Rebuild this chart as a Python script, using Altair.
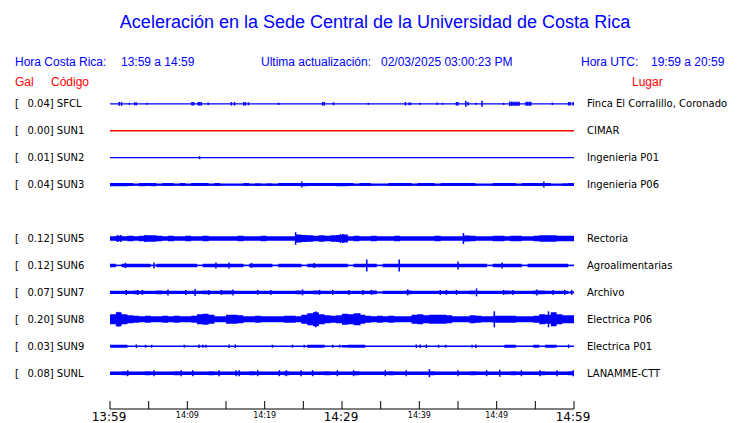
import altair as alt
import pandas as pd

# ---------------- data ----------------
CODES = ["SFCL", "SUN1", "SUN2", "SUN3", "SUN5", "SUN6", "SUN7", "SUN8", "SUN9", "SUNL"]
ROWS = [0, 1, 2, 3, 5, 6, 7, 8, 9, 10]
GAL = [0.04, 0.00, 0.01, 0.04, 0.12, 0.12, 0.07, 0.20, 0.03, 0.08]
PLACES = ["Finca El Corralillo, Coronado", "CIMAR", "Ingenieria P01", "Ingenieria P06",
          "Rectoria", "Agroalimentarias", "Archivo", "Electrica P06", "Electrica P01",
          "LANAMME-CTT"]

TICK_MIN = [0, 5, 10, 15, 20, 25, 30, 35, 40, 45, 50, 55, 60]
MAJOR_MIN = [0, 30, 60]
MAJOR_LBL = ["13:59", "14:29", "14:59"]
MINOR_MIN = [10, 20, 40, 50]
MINOR_LBL = ["14:09", "14:19", "14:39", "14:49"]

# envelope half-heights (px) in 0.75-minute bins (80 bins over the hour)
BIN_MIN = 0.75
SUN3_CORE = [1.6, 1.6, 1.6, 1.5, 1.1, 1.6, 1.5, 1.6, 1.2, 1.5,
             1.5, 1.2, 1.5, 1.2, 1.5, 1.5, 1.5, 1.2, 1.5, 1.1,
             1.1, 1.1, 1.1, 1.5, 1.2, 1.4, 1.2, 1.4, 1.2, 1.5,
             1.5, 1.5, 1.5, 1.6, 1.5, 1.5, 1.5, 1.5, 1.5, 1.6,
             1.6, 1.5, 1.1, 1.5, 1.5, 1.1, 1.2, 1.1, 1.5, 1.5,
             1.5, 1.5, 1.2, 1.5, 1.5, 1.5, 1.2, 1.5, 1.5, 1.5,
             1.5, 1.5, 1.5, 1.2, 1.1, 1.2, 1.5, 1.5, 1.5, 1.5,
             1.2, 1.5, 1.5, 1.5, 1.5, 1.5, 1.2, 1.2, 1.4, 1.5]
SUN5_CORE = [2.2, 2.8, 2.2, 2.8, 2.2, 2.8, 3.2, 3.2, 2.8, 2.2,
             2.8, 2.2, 2.2, 2.8, 2.2, 2.2, 2.8, 2.2, 2.2, 2.2,
             2.2, 2.2, 2.8, 2.2, 2.2, 2.2, 2.8, 2.2, 2.2, 2.2,
             2.2, 2.2, 4.0, 3.5, 3.2, 2.8, 3.2, 2.8, 3.2, 3.6,
             4.0, 2.2, 2.8, 2.2, 2.2, 2.8, 2.2, 2.2, 2.2, 2.8,
             2.2, 2.2, 2.2, 2.2, 2.2, 2.2, 2.8, 2.2, 2.2, 2.2,
             2.2, 3.0, 2.8, 2.2, 2.2, 2.2, 2.8, 2.8, 2.2, 2.8,
             2.8, 2.2, 2.2, 2.8, 3.2, 3.2, 3.2, 2.8, 2.8, 2.8]
SUN6_CORE = [1.7, 0.8, 1.7, 1.7, 1.7, 1.7, 1.7, 0.8, 1.7, 1.7,
             1.7, 1.7, 1.7, 1.7, 1.7, 0.8, 1.7, 1.7, 1.7, 1.7,
             1.7, 1.7, 1.7, 0.8, 1.7, 1.7, 1.7, 1.7, 0.8, 1.7,
             1.7, 1.7, 1.7, 0.8, 1.7, 1.7, 1.7, 1.7, 1.7, 1.7,
             1.7, 0.8, 1.7, 1.7, 1.7, 1.7, 0.8, 1.7, 1.7, 1.7,
             1.7, 1.7, 1.7, 1.7, 1.7, 1.7, 1.7, 1.7, 1.7, 1.7,
             1.7, 1.7, 1.7, 1.7, 1.7, 0.8, 1.7, 1.7, 1.7, 1.7,
             1.7, 0.8, 1.7, 1.7, 1.7, 1.7, 1.7, 1.7, 1.7, 0.8]
SUN7_CORE = [1.6, 1.6, 1.6, 1.6, 1.9, 1.6, 1.6, 1.6, 1.9, 1.6,
             1.6, 1.6, 1.6, 1.6, 1.6, 1.6, 1.9, 1.6, 1.6, 1.9,
             1.9, 1.6, 1.6, 1.6, 1.6, 1.6, 1.6, 1.6, 1.6, 1.6,
             1.6, 1.6, 1.9, 1.6, 1.6, 1.9, 1.6, 1.6, 1.6, 1.6,
             1.6, 1.6, 1.6, 1.6, 1.6, 1.9, 1.0, 1.6, 1.6, 1.6,
             1.6, 1.9, 1.6, 1.6, 1.6, 1.6, 1.6, 1.6, 1.6, 1.6,
             1.6, 1.6, 1.9, 1.6, 1.6, 1.6, 1.6, 1.6, 1.9, 1.6,
             1.6, 1.6, 1.6, 1.9, 1.9, 1.6, 1.6, 1.6, 1.6, 1.0]
SUN8_CORE = [5.0, 7.0, 5.0, 4.0, 3.5, 3.0, 3.5, 3.0, 3.0, 3.5,
             3.0, 3.5, 3.0, 3.0, 3.5, 5.0, 5.5, 4.5, 3.0, 3.0,
             4.5, 4.5, 4.0, 3.0, 3.0, 3.5, 3.0, 3.0, 3.0, 3.0,
             3.5, 3.5, 3.0, 4.5, 6.0, 7.0, 5.0, 4.0, 3.5, 4.0,
             5.5, 5.0, 6.0, 4.5, 3.5, 3.0, 3.5, 3.0, 3.5, 3.0,
             3.0, 3.0, 4.5, 5.0, 4.0, 4.5, 4.5, 4.5, 4.0, 3.0,
             3.0, 3.0, 4.0, 3.5, 3.0, 3.0, 3.5, 3.5, 3.5, 3.5,
             3.0, 3.0, 3.0, 3.5, 5.0, 4.5, 7.0, 5.0, 4.0, 4.0]
SUN9_CORE = [1.5, 1.5, 1.5, 0, 0, 0, 0, 0, 0, 0,
             0, 0, 0, 0, 0, 0, 0, 0, 0, 0,
             0, 0, 0, 0, 0, 0, 0, 0, 0, 0,
             0, 0, 0, 0, 1.5, 1.5, 1.5, 0, 0, 0,
             1.3, 1.5, 1.5, 1.5, 0, 0, 0, 0, 0, 0,
             0, 0, 0, 0, 0, 0, 0, 0, 0, 0,
             0, 0, 0, 0, 0, 0, 0, 0, 1.5, 1.5,
             0, 0, 0, 1.5, 0, 1.5, 1.5, 0, 0, 0]
SUNL_CORE = [1.7, 1.7, 2.0, 1.7, 1.7, 1.7, 2.0, 1.7, 1.7, 1.7,
             1.7, 2.0, 1.7, 1.7, 1.7, 1.7, 1.7, 2.0, 1.7, 1.7,
             1.7, 1.7, 1.7, 1.7, 2.0, 1.7, 1.7, 1.7, 1.7, 1.7,
             2.0, 1.7, 1.7, 1.7, 1.7, 1.7, 1.7, 2.0, 1.7, 1.7,
             1.7, 1.7, 2.0, 1.7, 1.7, 1.7, 1.7, 1.7, 2.0, 1.7,
             1.7, 1.7, 1.7, 1.7, 1.7, 2.0, 1.7, 1.7, 1.7, 1.7,
             1.7, 1.7, 2.0, 1.7, 1.7, 1.7, 1.7, 1.7, 1.7, 2.0,
             1.7, 1.7, 1.7, 1.7, 2.0, 1.7, 1.7, 1.7, 1.7, 2.0]

# isolated peaks: minute after 13:59 and half-height (px)
SFCL_PK_T = [1.2, 1.5, 2.5, 3.2, 3.4, 4.8, 10.6, 10.8, 11.4, 11.6,
             11.8, 12.7, 15.7, 16.1, 17.3, 17.5, 17.9, 21.8, 27.5, 27.7,
             28.9, 33.4, 38.2, 38.7, 38.9, 40.1, 42.3, 43.0, 44.8, 45.0,
             46.0, 46.3, 47.3, 48.1, 50.9, 51.7, 51.9, 52.1, 52.3, 52.5,
             52.7, 52.9, 53.8, 54.0, 54.2, 54.4, 57.2, 59.3, 59.5, 59.9]
SFCL_PK_A = [2, 2, 1, 1.5, 1.5, 1, 1.8, 1.8, 1.8, 1.8,
             1.8, 1.2, 1.8, 1.8, 1.8, 1.8, 1.5, 1.2, 1.8, 1.8,
             1.5, 1, 1.8, 1.5, 1, 1, 1.2, 1, 1.8, 1.8,
             3, 1.8, 1, 3, 1, 2.2, 2, 2, 2, 2,
             2, 2, 2, 2, 2, 2, 1.2, 1.8, 1.8, 1.8]
SUN2_PK_T = [11.6]
SUN2_PK_A = [1.5]
SUN3_PK_T = [24.8, 56.1]
SUN3_PK_A = [3, 3]
SUN5_PK_T = [1.0, 1.4, 4.5, 24.0, 29.8, 30.1, 45.7]
SUN5_PK_A = [3.5, 3.5, 3.5, 6.3, 4.5, 4.5, 5.5]
SUN6_PK_T = [2.0, 5.7, 13.7, 15.4, 18.3, 26.4, 33.2, 37.4, 45.0, 50.7]
SUN6_PK_A = [2.7, 3, 3, 3, 2.5, 2.5, 6, 6, 4, 3]
SUN7_PK_T = [2.1, 3.6, 4.2, 7.5, 9.8, 11.0, 12.8, 14.4, 15.9, 19.1,
             20.8, 24.9, 27.1, 28.8, 30.9, 32.7, 33.8, 38.5, 42.7, 43.5,
             44.8, 47.4, 50.9, 52.1, 55.2, 57.3, 58.8, 59.7]
SUN7_PK_A = [2.5, 2.5, 2.5, 3, 2.5, 3.5, 2.5, 2.5, 3, 2.5,
             2.5, 3, 2.5, 2.5, 2.5, 2.5, 2.5, 3, 2.5, 2.5,
             2.5, 4, 2.5, 2.5, 3, 2.5, 2.5, 2.5]
SUN8_PK_T = [1.1, 26.6, 32.3, 49.7, 56.7]
SUN8_PK_A = [7.5, 8, 6, 8, 8]
SUN9_PK_T = [3.4, 4.6, 5.4, 9.6, 11.5, 12.0, 12.4, 15.4, 16.2, 21.0,
             23.6, 25.1, 28.8, 29.7, 39.6, 40.1, 40.9, 42.5, 43.4, 46.8,
             47.3, 59.3]
SUN9_PK_A = [1.8, 1.5, 1.5, 1.5, 1.8, 1.5, 1.5, 1.8, 1.8, 1.5,
             1.5, 1.5, 1.5, 1.5, 1.8, 1.8, 1.8, 1.5, 1.5, 1.5,
             1.8, 1.8]
SUNL_PK_T = [2.3, 5.7, 9.2, 10.7, 14.1, 16.3, 16.7, 19.1, 21.9, 22.8,
             24.7, 26.2, 29.4, 31.5, 35.6, 38.3, 41.3, 45.0, 48.7, 50.4,
             53.2, 55.6, 57.8, 59.9]
SUNL_PK_A = [3, 3, 3, 3, 3, 3, 3, 3, 3, 3,
             3, 3, 3, 3, 3, 3, 4, 3, 3, 3.5,
             3, 3, 3, 3]

# ---------------- layout ----------------
PX_PER_ROW = 26.94
BLUE = "#0000ff"
RED = "#ff0000"
XS = alt.Scale(domain=[0, 60], range=[102, 566], nice=False, zero=False)
YS = alt.Scale(domain=[0, 10], range=[95.8, 365.2], nice=False, zero=False)
row_of = dict(zip(CODES, ROWS))

cores = {"SUN3": SUN3_CORE, "SUN5": SUN5_CORE, "SUN6": SUN6_CORE, "SUN7": SUN7_CORE,
         "SUN8": SUN8_CORE, "SUN9": SUN9_CORE, "SUNL": SUNL_CORE}
peaks = {"SFCL": (SFCL_PK_T, SFCL_PK_A), "SUN2": (SUN2_PK_T, SUN2_PK_A),
         "SUN3": (SUN3_PK_T, SUN3_PK_A), "SUN5": (SUN5_PK_T, SUN5_PK_A),
         "SUN6": (SUN6_PK_T, SUN6_PK_A), "SUN7": (SUN7_PK_T, SUN7_PK_A),
         "SUN8": (SUN8_PK_T, SUN8_PK_A), "SUN9": (SUN9_PK_T, SUN9_PK_A),
         "SUNL": (SUNL_PK_T, SUNL_PK_A)}

core_rows = []
for code, amps in cores.items():
    r = row_of[code]
    pts = [(i * BIN_MIN, a) for i, a in enumerate(amps)] + [(60.0, amps[-1])]
    for t, a in pts:
        core_rows.append({"code": code, "t": t,
                          "lo": r - a / PX_PER_ROW, "hi": r + a / PX_PER_ROW})
core_df = pd.DataFrame(core_rows)

pk_rows = []
for code, (ts, as_) in peaks.items():
    assert len(ts) == len(as_)
    r = row_of[code]
    for t, a in zip(ts, as_):
        pk_rows.append({"code": code, "t": t,
                        "lo": r - a / PX_PER_ROW, "hi": r + a / PX_PER_ROW})
pk_df = pd.DataFrame(pk_rows)

st_df = pd.DataFrame({"code": CODES, "row": ROWS, "gal": GAL, "place": PLACES})
st_df["label"] = [f"{g:.2f}] {c}" for g, c in zip(GAL, CODES)]
st_df["t0"] = 0
st_df["t1"] = 60

color_enc = alt.Color("code:N", scale=alt.Scale(domain=CODES,
                      range=[RED if c == "SUN1" else BLUE for c in CODES]), legend=None)

base_lines = alt.Chart(st_df).mark_rule(strokeWidth=1.3).encode(
    x=alt.X("t0:Q", scale=XS, axis=None), x2="t1:Q",
    y=alt.Y("row:Q", scale=YS, axis=None), color=color_enc)

core_area = alt.Chart(core_df).mark_area(interpolate="step-after", color=BLUE).encode(
    x=alt.X("t:Q", scale=XS, axis=None),
    y=alt.Y("lo:Q", scale=YS, axis=None), y2="hi:Q", detail="code:N")

peak_rules = alt.Chart(pk_df).mark_rule(strokeWidth=1.5, color=BLUE).encode(
    x=alt.X("t:Q", scale=XS, axis=None),
    y=alt.Y("lo:Q", scale=YS, axis=None), y2="hi:Q")

# time axis drawn at the bottom with upward ticks
tick_df = pd.DataFrame({"t": TICK_MIN})
axis_line = alt.Chart(pd.DataFrame({"a": [0], "b": [60]})).mark_rule(
    color="black", strokeWidth=1).encode(
    x=alt.X("a:Q", scale=XS, axis=None), x2="b:Q", y=alt.value(401))
ticks = alt.Chart(tick_df).mark_rule(color="black", strokeWidth=1).encode(
    x=alt.X("t:Q", scale=XS, axis=None), y=alt.value(393), y2=alt.value(401))
major = alt.Chart(pd.DataFrame({"t": MAJOR_MIN, "l": MAJOR_LBL})).mark_text(
    font="DejaVu Sans", fontSize=12, baseline="middle", align="center", color="black",
    dx=-1).encode(
    x=alt.X("t:Q", scale=XS, axis=None), y=alt.value(409), text="l:N")
minor = alt.Chart(pd.DataFrame({"t": MINOR_MIN, "l": MINOR_LBL})).mark_text(
    font="DejaVu Sans", fontSize=8, baseline="middle", align="center", color="black").encode(
    x=alt.X("t:Q", scale=XS, axis=None), y=alt.value(408), text="l:N")

# station labels
bracket = alt.Chart(st_df).mark_text(font="DejaVu Sans", fontSize=10, align="left",
                                     baseline="middle", color="black", dy=0.5).encode(
    x=alt.value(7), y=alt.Y("row:Q", scale=YS, axis=None), text=alt.value("["))
codes_txt = alt.Chart(st_df).mark_text(font="DejaVu Sans", fontSize=10, align="left",
                                       baseline="middle", color="black", dy=0.5).encode(
    x=alt.value(19.5), y=alt.Y("row:Q", scale=YS, axis=None), text="label:N")
places_txt = alt.Chart(st_df).mark_text(font="DejaVu Sans", fontSize=10, align="left",
                                        baseline="middle", color="black", dy=0.5).encode(
    x=alt.value(579), y=alt.Y("row:Q", scale=YS, axis=None), text="place:N")


def label(text, x, y, size, color, align="left"):
    return alt.Chart(pd.DataFrame({"s": [text]})).mark_text(
        font="Liberation Sans", fontSize=size, align=align, baseline="middle",
        color=color).encode(x=alt.value(x), y=alt.value(y), text="s:N")


headers = [
    label("Aceleración en la Sede Central de la Universidad de Costa Rica", 367, 14.5, 18, BLUE, "center"),
    label("Hora Costa Rica:", 7, 54, 12, BLUE),
    label("13:59 a 14:59", 113, 54, 12, BLUE),
    label("Ultima actualización:", 253, 54, 12, BLUE),
    label("02/03/2025 03:00:23 PM", 373, 54, 12, BLUE),
    label("Hora UTC:", 573, 54, 12, BLUE),
    label("19:59 a 20:59", 643, 54, 12, BLUE),
    label("Gal", 7, 73.5, 12, RED),
    label("Código", 43, 73.5, 12, RED),
    label("Lugar", 624, 73.5, 12, RED),
]

chart = alt.layer(base_lines, core_area, peak_rules, axis_line, ticks, major, minor,
                  bracket, codes_txt, places_txt, *headers).properties(
    width=724, height=415, autosize=alt.AutoSizeParams(type="none"), padding=0,
    background="white").configure_view(stroke=None)

chart.save("out.html", embed_options={"renderer": "svg", "actions": False})
